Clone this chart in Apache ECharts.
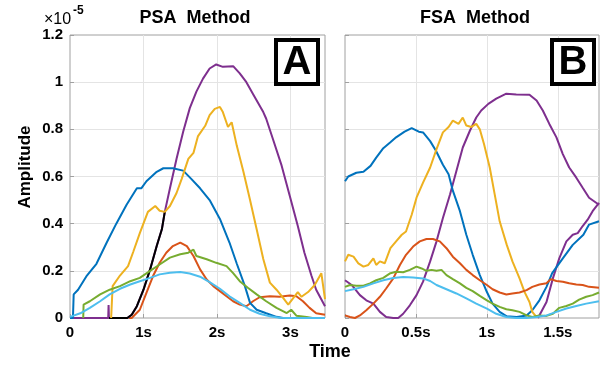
<!DOCTYPE html>
<html>
<head>
<meta charset="utf-8">
<script src="https://cdn.jsdelivr.net/npm/echarts@6/dist/echarts.min.js"></script>
<style>
  html, body { margin: 0; padding: 0; background: #fff; }
  #chart { width: 605px; height: 365px; }
</style>
</head>
<body>
<div id="chart"></div>
<script>
// amplitudes in units of 1e-5, time in seconds
const psaBlue = [[0,0],[0.04,0],[0.05,0.1],[0.11,0.12],[0.23,0.18],[0.36,0.23],[0.5,0.32],[0.63,0.4],[0.77,0.48],[0.91,0.55],[0.97,0.55],[1.04,0.58],[1.18,0.62],[1.27,0.635],[1.4,0.635],[1.54,0.625],[1.65,0.59],[1.77,0.55],[1.9,0.5],[2.04,0.42],[2.17,0.32],[2.27,0.23],[2.38,0.135],[2.45,0.064],[2.54,0.035],[2.67,0.02],[2.81,0.005],[2.9,0],[3.47,0]]
const psaRed = [[0.8,0],[0.84,0],[0.95,0.035],[1.04,0.107],[1.13,0.178],[1.22,0.234],[1.31,0.277],[1.4,0.305],[1.5,0.32],[1.59,0.305],[1.68,0.263],[1.77,0.206],[1.86,0.163],[1.95,0.135],[2.04,0.114],[2.13,0.092],[2.22,0.071],[2.31,0.057],[2.4,0.05],[2.49,0.071],[2.58,0.088],[2.72,0.092],[2.85,0.09],[2.99,0.095],[3.08,0.092],[3.17,0.071],[3.26,0.043],[3.35,0.02],[3.47,0.014]]
const psaYellow = [[0.56,0],[0.58,0.135],[0.68,0.18],[0.79,0.22],[0.86,0.28],[0.95,0.36],[1.06,0.45],[1.16,0.475],[1.22,0.455],[1.29,0.45],[1.36,0.475],[1.45,0.53],[1.52,0.59],[1.61,0.675],[1.68,0.7],[1.74,0.77],[1.84,0.815],[1.9,0.86],[1.97,0.887],[2.04,0.895],[2.08,0.873],[2.15,0.81],[2.2,0.83],[2.27,0.73],[2.36,0.62],[2.45,0.5],[2.54,0.376],[2.63,0.25],[2.72,0.15],[2.81,0.12],[2.9,0.085],[2.97,0.057],[3.04,0.085],[3.1,0.11],[3.15,0.09],[3.24,0.11],[3.33,0.14],[3.42,0.19],[3.47,0.08]]
const psaPurple = [[0.04,0],[0.52,0],[0.525,0.055],[0.53,0],[0.78,0],[0.84,0.014],[0.91,0.05],[1.0,0.12],[1.09,0.206],[1.18,0.305],[1.25,0.376],[1.29,0.45],[1.36,0.55],[1.45,0.675],[1.54,0.79],[1.63,0.89],[1.72,0.96],[1.81,1.015],[1.9,1.058],[1.99,1.075],[2.08,1.065],[2.22,1.068],[2.31,1.037],[2.4,1.0],[2.49,0.95],[2.63,0.873],[2.67,0.845],[2.76,0.76],[2.88,0.646],[2.99,0.518],[3.1,0.39],[3.19,0.277],[3.285,0.18],[3.35,0.12],[3.47,0.05]]
const psaGreen = [[0.18,0],[0.185,0.057],[0.27,0.071],[0.41,0.1],[0.54,0.12],[0.68,0.135],[0.82,0.156],[0.95,0.17],[1.09,0.2],[1.22,0.227],[1.36,0.256],[1.5,0.27],[1.61,0.277],[1.68,0.29],[1.72,0.263],[1.86,0.249],[1.99,0.234],[2.13,0.22],[2.22,0.19],[2.31,0.156],[2.42,0.128],[2.54,0.1],[2.67,0.071],[2.81,0.043],[2.95,0.021],[3.01,0.035],[3.08,0.01],[3.22,0.004],[3.3,0],[3.47,0]]
const psaCyan = [[0,0.005],[0.14,0.02],[0.27,0.043],[0.41,0.071],[0.54,0.1],[0.68,0.124],[0.82,0.142],[0.95,0.156],[1.09,0.17],[1.22,0.185],[1.36,0.192],[1.5,0.195],[1.63,0.189],[1.77,0.175],[1.9,0.152],[2.04,0.124],[2.17,0.092],[2.31,0.064],[2.45,0.035],[2.58,0.018],[2.72,0.007],[2.85,0.001],[2.95,0],[3.47,0]]
const psaBlack = [[0.53,0],[0.78,0],[0.84,0.014],[0.91,0.05],[1.0,0.12],[1.09,0.206],[1.18,0.305],[1.25,0.376],[1.29,0.45]]

const fsaBlue = [[0,0.58],[0.023,0.6],[0.08,0.616],[0.13,0.62],[0.18,0.645],[0.22,0.68],[0.27,0.72],[0.32,0.745],[0.36,0.766],[0.42,0.79],[0.47,0.805],[0.52,0.79],[0.55,0.787],[0.6,0.75],[0.64,0.71],[0.69,0.65],[0.73,0.61],[0.76,0.54],[0.81,0.453],[0.855,0.353],[0.9,0.268],[0.95,0.182],[1.0,0.11],[1.04,0.061],[1.09,0.026],[1.14,0.007],[1.21,0.004],[1.28,0.011],[1.32,0.033],[1.37,0.075],[1.42,0.132],[1.46,0.19],[1.535,0.253],[1.605,0.31],[1.68,0.353],[1.72,0.396],[1.79,0.41]]
const fsaRed = [[0,0.011],[0.035,0.004],[0.07,0],[0.105,0.011],[0.15,0.033],[0.2,0.061],[0.246,0.09],[0.29,0.125],[0.34,0.168],[0.387,0.225],[0.43,0.268],[0.48,0.303],[0.527,0.325],[0.574,0.335],[0.62,0.335],[0.668,0.325],[0.715,0.296],[0.76,0.26],[0.81,0.232],[0.855,0.204],[0.9,0.182],[0.95,0.16],[1.0,0.14],[1.04,0.122],[1.09,0.108],[1.137,0.1],[1.18,0.104],[1.23,0.108],[1.28,0.118],[1.32,0.132],[1.37,0.142],[1.42,0.147],[1.45,0.165],[1.49,0.157],[1.535,0.154],[1.58,0.147],[1.63,0.142],[1.675,0.14],[1.72,0.132],[1.79,0.128]]
const fsaYellow = [[0,0.24],[0.023,0.268],[0.06,0.26],[0.094,0.232],[0.13,0.218],[0.164,0.225],[0.2,0.253],[0.22,0.225],[0.246,0.24],[0.28,0.232],[0.32,0.296],[0.36,0.325],[0.4,0.353],[0.43,0.367],[0.47,0.438],[0.504,0.51],[0.55,0.574],[0.6,0.638],[0.645,0.716],[0.69,0.787],[0.73,0.81],[0.76,0.837],[0.8,0.823],[0.83,0.85],[0.855,0.816],[0.89,0.81],[0.925,0.823],[0.95,0.8],[0.98,0.737],[1.02,0.638],[1.055,0.524],[1.09,0.41],[1.14,0.31],[1.18,0.24],[1.23,0.168],[1.265,0.111],[1.3,0.068],[1.32,0.026],[1.35,0.004]]
const fsaPurple = [[0,0.16],[0.047,0.14],[0.105,0.097],[0.15,0.075],[0.2,0.061],[0.246,0.026],[0.29,0.004],[0.34,0],[0.375,0],[0.41,0.018],[0.457,0.054],[0.504,0.097],[0.55,0.154],[0.6,0.24],[0.645,0.325],[0.69,0.424],[0.74,0.524],[0.785,0.623],[0.83,0.723],[0.88,0.794],[0.925,0.85],[0.96,0.88],[1.01,0.908],[1.066,0.93],[1.137,0.951],[1.207,0.948],[1.3,0.947],[1.35,0.922],[1.394,0.88],[1.44,0.823],[1.49,0.766],[1.535,0.695],[1.58,0.638],[1.63,0.595],[1.675,0.552],[1.72,0.51],[1.79,0.48]]
const fsaPurpleRise = [[1.36,0],[1.42,0.068],[1.465,0.168],[1.51,0.253],[1.56,0.325],[1.605,0.353],[1.64,0.36],[1.675,0.39],[1.71,0.417],[1.745,0.453],[1.79,0.488]]
const fsaGreen = [[0,0.132],[0.035,0.14],[0.08,0.137],[0.13,0.137],[0.176,0.147],[0.22,0.16],[0.27,0.17],[0.32,0.19],[0.36,0.196],[0.41,0.194],[0.457,0.204],[0.504,0.218],[0.54,0.21],[0.574,0.2],[0.61,0.204],[0.645,0.2],[0.68,0.204],[0.715,0.182],[0.76,0.165],[0.81,0.147],[0.855,0.128],[0.9,0.114],[0.95,0.094],[1.0,0.075],[1.04,0.061],[1.09,0.047],[1.137,0.037],[1.18,0.033],[1.23,0.026],[1.28,0.011],[1.32,0.004],[1.37,0.011],[1.42,0.009],[1.465,0.018],[1.51,0.043],[1.56,0.051],[1.605,0.061],[1.65,0.078],[1.7,0.09],[1.745,0.097],[1.79,0.108]]
const fsaCyan = [[0,0.114],[0.06,0.122],[0.13,0.132],[0.2,0.147],[0.27,0.16],[0.34,0.17],[0.41,0.174],[0.48,0.172],[0.55,0.168],[0.6,0.157],[0.645,0.14],[0.715,0.122],[0.785,0.104],[0.855,0.083],[0.925,0.061],[1.0,0.04],[1.066,0.018],[1.137,0.004],[1.207,0],[1.28,0],[1.35,0.004],[1.42,0.011],[1.49,0.026],[1.56,0.04],[1.63,0.051],[1.7,0.061],[1.79,0.071]]

const yTicks = [0, 0.2, 0.4, 0.6, 0.8, 1, 1.2]
const psaTimeTicks = [0, 1, 2, 3]
const fsaTimeTicks = [0, 0.5, 1, 1.5]

const colors = {
	blue: '#0072BD',
	red: '#D95319',
	yellow: '#EDB120',
	purple: '#7E2F8E',
	green: '#77AC30',
	cyan: '#4DBEEE',
	black: '#000000',
}

const font = 'Liberation Sans, Arial, sans-serif'
const frameColor = '#a0a0a0'

const chart = echarts.init(document.getElementById('chart'), null, { renderer: 'canvas' })

const timeLabel = (ticks) => (v) => {
	const hit = ticks.find((t) => Math.abs(t - v) < 1e-6)
	if (hit === undefined) return ''
	return hit === 0 ? '0' : hit + 's'
}

const xAxisBase = {
	type: 'value',
	min: 0,
	axisLine: { show: false },
	axisTick: { show: true, inside: true, length: 4, lineStyle: { color: frameColor } },
	splitLine: { show: true, showMinLine: false, showMaxLine: false, lineStyle: { color: '#e4e4e4', width: 1 } },
	axisLabel: { color: '#000', fontFamily: font, fontWeight: 'bold', fontSize: 15, margin: 7, showMaxLabel: false },
}

const yAxisBase = {
	type: 'value',
	min: yTicks[0],
	max: yTicks[yTicks.length - 1],
	interval: 0.2,
	axisLine: { show: false },
	axisTick: { show: true, inside: true, length: 4, lineStyle: { color: frameColor } },
	splitLine: { show: true, showMinLine: false, showMaxLine: false, lineStyle: { color: '#e4e4e4', width: 1 } },
}

const line = (name, data, color, xi, z) => ({
	name,
	type: 'line',
	xAxisIndex: xi,
	yAxisIndex: xi,
	data,
	showSymbol: false,
	symbol: 'none',
	z,
	lineStyle: { color, width: 2 },
	itemStyle: { color },
	emphasis: { disabled: true },
	animation: false,
})

const option = {
	backgroundColor: '#fff',
	animation: false,
	grid: [
		{ left: 70, top: 35, width: 255, height: 283, show: true, borderColor: frameColor, borderWidth: 1, backgroundColor: '#fff' },
		{ left: 345, top: 35, width: 254, height: 283, show: true, borderColor: frameColor, borderWidth: 1, backgroundColor: '#fff' },
	],
	xAxis: [
		{ ...xAxisBase, gridIndex: 0, max: 3.47, interval: 1, axisLabel: { ...xAxisBase.axisLabel, formatter: timeLabel(psaTimeTicks) } },
		{ ...xAxisBase, gridIndex: 1, max: 1.79, interval: 0.5, axisLabel: { ...xAxisBase.axisLabel, formatter: timeLabel(fsaTimeTicks) } },
	],
	yAxis: [
		{
			...yAxisBase,
			gridIndex: 0,
			axisLabel: {
				color: '#000', fontFamily: font, fontWeight: 'bold', fontSize: 15, margin: 7,
				formatter: (v) => String(parseFloat(v.toFixed(1))),
			},
		},
		{ ...yAxisBase, gridIndex: 1, axisLabel: { show: false } },
	],
	series: [
		line('PSA red', psaRed, colors.red, 0, 2),
		line('PSA purple', psaPurple, colors.purple, 0, 3),
		line('PSA black', psaBlack, colors.black, 0, 4),
		line('PSA blue', psaBlue, colors.blue, 0, 5),
		line('PSA yellow', psaYellow, colors.yellow, 0, 6),
		line('PSA green', psaGreen, colors.green, 0, 7),
		line('PSA cyan', psaCyan, colors.cyan, 0, 8),
		line('FSA purple', fsaPurple, colors.purple, 1, 2),
		line('FSA purple 2', fsaPurpleRise, colors.purple, 1, 2),
		line('FSA blue', fsaBlue, colors.blue, 1, 4),
		line('FSA yellow', fsaYellow, colors.yellow, 1, 5),
		line('FSA red', fsaRed, colors.red, 1, 6),
		line('FSA green', fsaGreen, colors.green, 1, 7),
		line('FSA cyan', fsaCyan, colors.cyan, 1, 8),
	],
	graphic: [
		{ type: 'text', x: 195, y: 18, z: 50, style: { text: 'PSA  Method', font: 'bold 18px ' + font, fill: '#000', align: 'center', verticalAlign: 'middle' } },
		{ type: 'text', x: 475, y: 18, z: 50, style: { text: 'FSA  Method', font: 'bold 18px ' + font, fill: '#000', align: 'center', verticalAlign: 'middle' } },
		{ type: 'text', x: 44, y: 20, z: 50, style: { text: '×10', font: '16px ' + font, fill: '#000', verticalAlign: 'middle' } },
		{ type: 'text', x: 73, y: 11, z: 50, style: { text: '-5', font: 'bold 12px ' + font, fill: '#000', verticalAlign: 'middle' } },
		{ type: 'text', x: 25, y: 167, rotation: Math.PI / 2, z: 50, style: { text: 'Amplitude', font: 'bold 17px ' + font, fill: '#000', align: 'center', verticalAlign: 'middle' } },
		{ type: 'text', x: 330, y: 352, z: 50, style: { text: 'Time', font: 'bold 18px ' + font, fill: '#000', align: 'center', verticalAlign: 'middle' } },
		{ type: 'rect', z: 60, shape: { x: 276, y: 40, width: 42, height: 44 }, style: { fill: '#fff', stroke: '#000', lineWidth: 4 } },
		{ type: 'text', x: 297, y: 63, z: 61, style: { text: 'A', font: 'bold 40px ' + font, fill: '#000', align: 'center', verticalAlign: 'middle' } },
		{ type: 'rect', z: 60, shape: { x: 552, y: 40, width: 42, height: 44 }, style: { fill: '#fff', stroke: '#000', lineWidth: 4 } },
		{ type: 'text', x: 573, y: 63, z: 61, style: { text: 'B', font: 'bold 40px ' + font, fill: '#000', align: 'center', verticalAlign: 'middle' } },
	],
}

chart.setOption(option)
</script>
</body>
</html>
